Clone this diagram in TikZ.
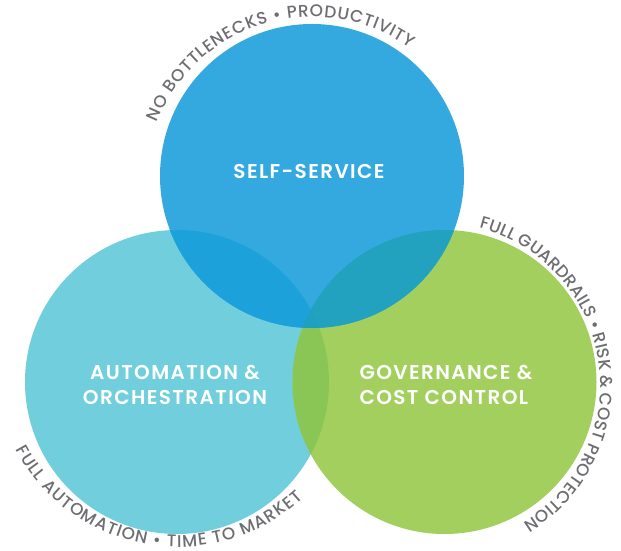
\documentclass[tikz,border=0pt]{standalone}
\usepackage{fontspec}
\setmainfont{Poppins}
\newfontfamily\labelfont{Poppins SemiBold}[LetterSpace=7]
\newfontfamily\arcfont{Poppins Medium}
\usetikzlibrary{decorations.text}
\definecolor{cA}{HTML}{33A9DF}
\definecolor{cB}{HTML}{71CEDC}
\definecolor{cC}{HTML}{A3CF5F}
\definecolor{cAB}{HTML}{1DA1DA}
\definecolor{cAC}{HTML}{22A2BF}
\definecolor{cBC}{HTML}{8AC655}
\definecolor{cABC}{HTML}{20A0C0}
\definecolor{tgray}{HTML}{6D6E71}
\newcommand{\curvefont}{\arcfont\fontsize{17}{20}\selectfont}
\tikzset{
  mainlabel/.style={text=white, font=\labelfont\fontsize{20}{25}\selectfont},
  curvetext/.style={decorate, decoration={text along path, text={|\curvefont|#1}, text align={fit to path}, text color=tgray}}
}
\begin{document}
\begin{tikzpicture}[x=1pt,y=1pt]
\useasboundingbox (0,0) rectangle (621,551);
\coordinate (T) at (312,375);
\coordinate (L) at (177,169);
\coordinate (R) at (444.5,169);
\coordinate (Tt) at (312.7,366);
\coordinate (Lt) at (178,187.5);
\coordinate (Rt) at (438.5,166.2);
\def\rr{152}
\fill[cB] (L) circle (\rr);
\fill[cC] (R) circle (\rr);
\fill[cA] (T) circle (\rr);
\begin{scope}
  \clip (L) circle (\rr);
  \fill[cBC] (R) circle (\rr);
\end{scope}
\begin{scope}
  \clip (T) circle (\rr);
  \fill[cAB] (L) circle (\rr);
  \fill[cAC] (R) circle (\rr);
  \clip (L) circle (\rr);
  \fill[cABC] (R) circle (\rr);
\end{scope}
\node[mainlabel] (self) at (309,380) {SELF-SERVICE};
\node[mainlabel, align=center] (auto) at (175,166.5) {AUTOMATION \&\\ORCHESTRATION};
\node[mainlabel, align=left, anchor=west] (gov) at (356,166.5) {GOVERNANCE \&\\COST CONTROL};
\path[curvetext={NO BOTTLENECKS • PRODUCTIVITY}] (Tt) ++(158:168) arc[start angle=158, end angle=54.5, radius=168];
\path[curvetext={FULL GUARDRAILS • RISK {\&} COST PROTECTION}] (Rt) ++(75.5:162) arc[start angle=75.5, end angle=-58.5, radius=162];
\path[curvetext={FULL AUTOMATION • TIME TO MARKET}] (Lt) ++(208:183.5) arc[start angle=208, end angle=313, radius=183.5];
\end{tikzpicture}
\end{document}
